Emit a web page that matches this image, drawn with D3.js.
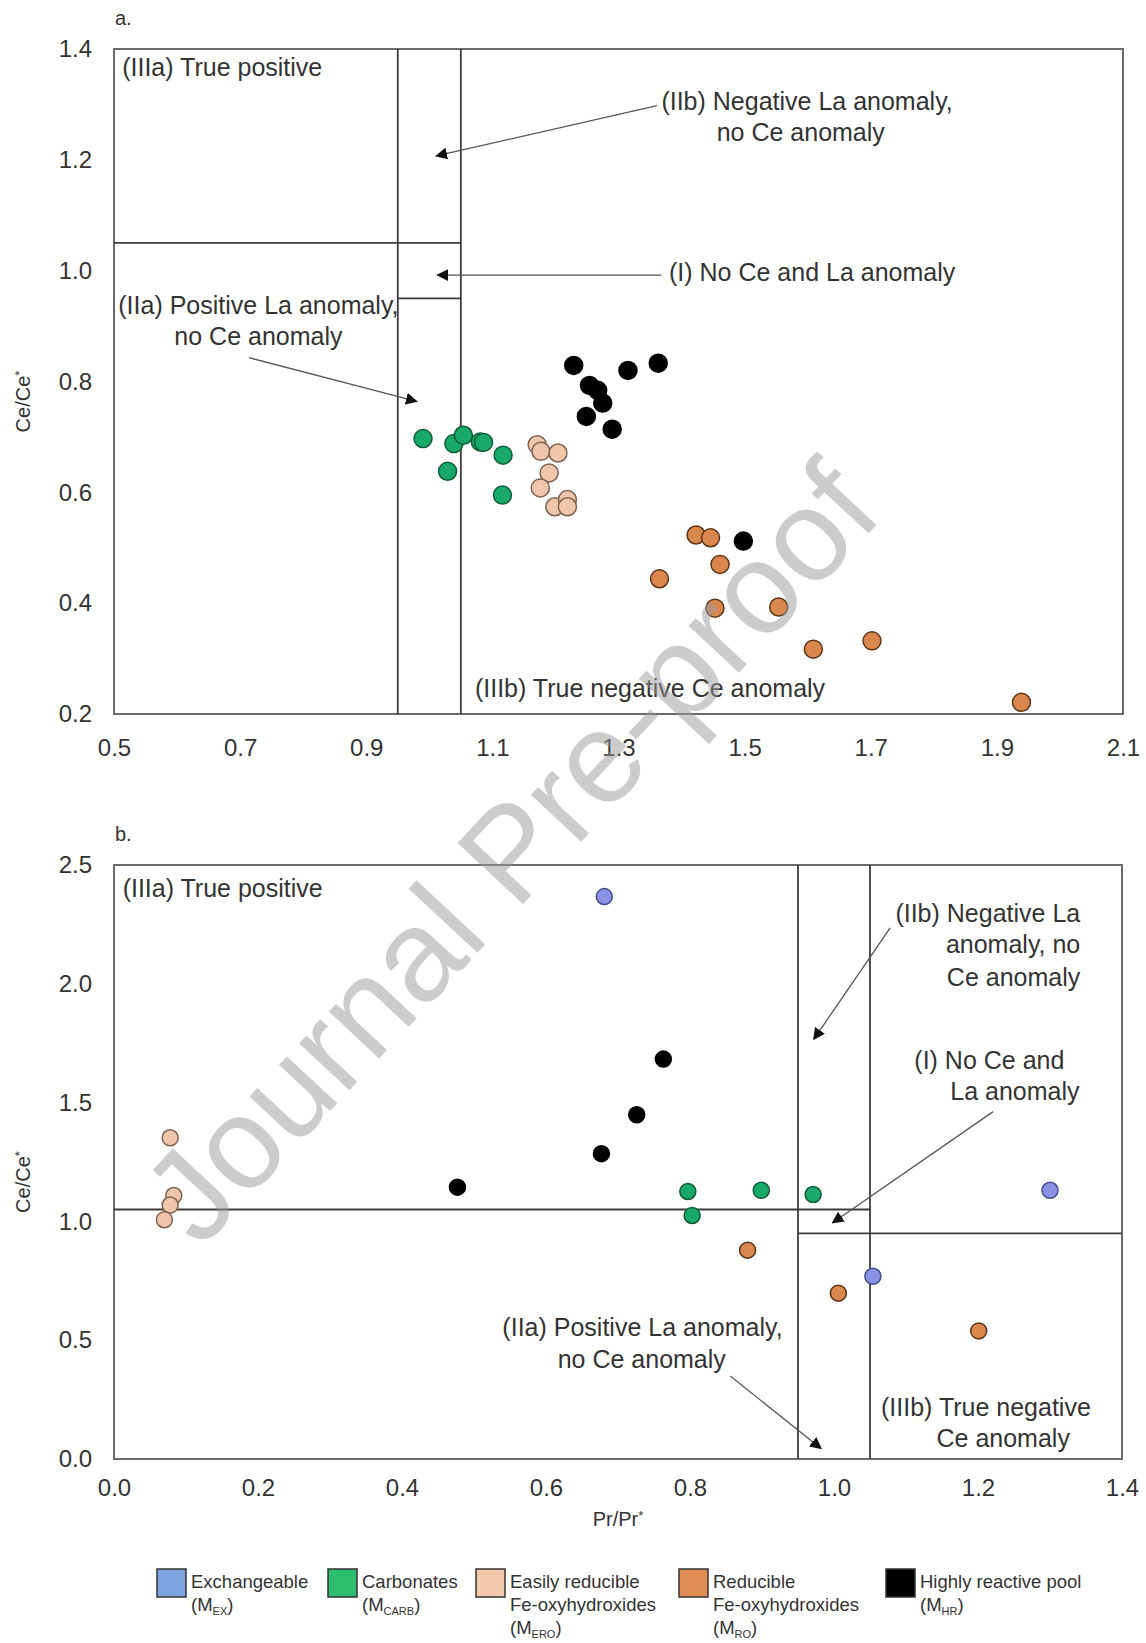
<!DOCTYPE html>
<html>
<head>
<meta charset="utf-8">
<script src="https://cdn.jsdelivr.net/npm/d3@7"></script>
<style>
  body { margin: 0; background: #fff; }
  svg text { font-family: "Liberation Sans", Arial, sans-serif; fill: #333; }
</style>
</head>
<body>
<svg id="chart" width="1146" height="1643"></svg>
<script>
// ---- data: [Pr/Pr*, Ce/Ce*] ----
// panel a
const aCarb = [[0.99, 0.697], [1.029, 0.638], [1.039, 0.688], [1.054, 0.703], [1.081, 0.691], [1.086, 0.690], [1.117, 0.667], [1.116, 0.595]];
const aEro = [[1.171, 0.686], [1.177, 0.674], [1.204, 0.671], [1.19, 0.635], [1.176, 0.608], [1.199, 0.574], [1.219, 0.587], [1.219, 0.574]];
const aRo = [[1.423, 0.523], [1.446, 0.518], [1.461, 0.47], [1.365, 0.444], [1.453, 0.391], [1.554, 0.393], [1.609, 0.317], [1.702, 0.332], [1.939, 0.221]];
const aHr = [[1.229, 0.829], [1.254, 0.793], [1.267, 0.784], [1.275, 0.761], [1.249, 0.737], [1.29, 0.714], [1.315, 0.82], [1.363, 0.833], [1.498, 0.512]];
// panel b
const bEx = [[0.681, 2.367], [1.3, 1.131], [1.054, 0.769]];
const bCarb = [[0.797, 1.126], [0.899, 1.131], [0.971, 1.113], [0.803, 1.025]];
const bEro = [[0.078, 1.352], [0.083, 1.109], [0.078, 1.069], [0.07, 1.007]];
const bRo = [[0.88, 0.879], [1.006, 0.698], [1.201, 0.539]];
const bHr = [[0.477, 1.144], [0.677, 1.285], [0.726, 1.449], [0.763, 1.683]];

const aXTicks = [0.5, 0.7, 0.9, 1.1, 1.3, 1.5, 1.7, 1.9, 2.1];
const aYTicks = [0.2, 0.4, 0.6, 0.8, 1.0, 1.2, 1.4];
const bXTicks = [0, 0.2, 0.4, 0.6, 0.8, 1.0, 1.2, 1.4];
const bYTicks = [0, 0.5, 1.0, 1.5, 2.0, 2.5];

const lower = 0.95, upper = 1.05;

const fractionKeys = ['ex', 'carb', 'ero', 'ro', 'hr'];
const fractionNames = [['Exchangeable'], ['Carbonates'], ['Easily reducible', 'Fe-oxyhydroxides'], ['Reducible', 'Fe-oxyhydroxides'], ['Highly reactive pool']];
const fractionSubs = ['EX', 'CARB', 'ERO', 'RO', 'HR'];

const fill = { ex: '#8a92e6', carb: '#19aa6b', ero: '#efc6ab', ro: '#d9874d', hr: '#000' };
const edge = { ex: '#454c8c', carb: '#0f5c38', ero: '#7e6150', ro: '#5a3417', hr: '#000' };
const legendFill = { ex: '#7ea4e0', carb: '#2dbd6e', ero: '#f2c9ab', ro: '#e08d55', hr: '#000' };

// annotation text: [x, y, anchor, text] in data units
const aNotes = [
  [0.513, 1.351, 'start', '(IIIa) True positive'],
  [1.599, 1.29, 'middle', '(IIb) Negative La anomaly,'],
  [1.589, 1.234, 'middle', 'no Ce anomaly'],
  [1.607, 0.982, 'middle', '(I) No Ce and La anomaly'],
  [0.729, 0.922, 'middle', '(IIa) Positive La anomaly,'],
  [0.729, 0.865, 'middle', 'no Ce anomaly'],
  [1.35, 0.23, 'middle', '(IIIb) True negative Ce anomaly']
];
const aArrows = [
  [1.361, 1.298, 1.011, 1.207],
  [1.368, 0.992, 1.013, 0.992],
  [0.714, 0.843, 0.98, 0.764]
];
const bNotes = [
  [0.012, 2.367, 'start', '(IIIa) True positive'],
  [1.342, 2.261, 'end', '(IIb) Negative La'],
  [1.342, 2.129, 'end', 'anomaly, no'],
  [1.342, 1.992, 'end', 'Ce anomaly'],
  [1.32, 1.643, 'end', '(I) No Ce and'],
  [1.341, 1.511, 'end', 'La anomaly'],
  [0.734, 0.517, 'middle', '(IIa) Positive La anomaly,'],
  [0.733, 0.384, 'middle', 'no Ce anomaly'],
  [1.211, 0.181, 'middle', '(IIIb) True negative'],
  [1.235, 0.049, 'middle', 'Ce anomaly']
];
const bArrows = [
  [1.078, 2.235, 0.972, 1.767],
  [1.221, 1.462, 0.998, 0.994],
  [0.856, 0.349, 0.982, 0.044]
];

const svg = d3.select('#chart');

svg.append('defs').append('marker')
  .attr('id', 'head')
  .attr('viewBox', '0 0 10 10')
  .attr('refX', 9).attr('refY', 5)
  .attr('markerWidth', 12).attr('markerHeight', 12)
  .attr('markerUnits', 'userSpaceOnUse')
  .attr('orient', 'auto')
  .append('path').attr('d', 'M0,0 L10,5 L0,10 z').attr('fill', '#111');

function drawPanel(cfg) {
  const { x, y, xTicks, yTicks, xPad, series, r, hLines, notes, arrows, label } = cfg;
  const g = svg.append('g');
  const [x0, x1] = x.range();
  const [y0, y1] = y.range();

  // tick labels only, no tick marks
  g.append('g')
    .attr('transform', `translate(0,${y0})`)
    .call(d3.axisBottom(x).tickValues(xTicks).tickSize(0).tickPadding(xPad).tickFormat(d3.format('.1f')))
    .call(a => a.select('.domain').remove())
    .call(a => a.selectAll('text').attr('font-size', 24).attr('fill', '#444').style('font-family', null));

  g.append('g')
    .attr('transform', `translate(${x0},0)`)
    .call(d3.axisLeft(y).tickValues(yTicks).tickSize(0).tickPadding(22).tickFormat(d3.format('.1f')))
    .call(a => a.select('.domain').remove())
    .call(a => a.selectAll('text').attr('font-size', 24).attr('fill', '#444').style('font-family', null));

  // frame
  g.append('rect')
    .attr('x', x0).attr('y', y1)
    .attr('width', x1 - x0).attr('height', y0 - y1)
    .attr('fill', 'none').attr('stroke', '#6a6a6a').attr('stroke-width', 2);

  // anomaly field boundaries
  const lines = g.append('g').attr('stroke', '#3c3c3c').attr('stroke-width', 1.8);
  [lower, upper].forEach(v => {
    lines.append('line').attr('x1', x(v)).attr('x2', x(v)).attr('y1', y0).attr('y2', y1);
  });
  hLines.forEach(([v, from, to]) => {
    lines.append('line').attr('x1', x(from)).attr('x2', x(to)).attr('y1', y(v)).attr('y2', y(v));
  });

  // arrows
  g.append('g').selectAll('line').data(arrows).join('line')
    .attr('x1', d => x(d[0])).attr('y1', d => y(d[1]))
    .attr('x2', d => x(d[2])).attr('y2', d => y(d[3]))
    .attr('stroke', '#555').attr('stroke-width', 1.3)
    .attr('marker-end', 'url(#head)');

  // notes
  g.append('g').selectAll('text').data(notes).join('text')
    .attr('x', d => x(d[0])).attr('y', d => y(d[1]))
    .attr('text-anchor', d => d[2])
    .attr('font-size', 25)
    .text(d => d[3]);

  // points
  series.forEach(([key, pts]) => {
    g.append('g').selectAll('circle').data(pts).join('circle')
      .attr('cx', d => x(d[0])).attr('cy', d => y(d[1]))
      .attr('r', r)
      .attr('fill', fill[key])
      .attr('stroke', edge[key]).attr('stroke-width', 1.5);
  });

  // panel letter
  g.append('text').attr('x', x0 + 1).attr('y', y1 - 24).attr('font-size', 20).text(label);

  // y title
  g.append('text')
    .attr('transform', `translate(30,${(y0 + y1) / 2 + 20}) rotate(-90)`)
    .attr('text-anchor', 'middle').attr('font-size', 20)
    .text('Ce/Ce')
    .append('tspan').attr('dy', -6).attr('font-size', 13).text('*');
}

const xa = d3.scaleLinear().domain([0.5, 2.1]).range([114, 1123]);
const ya = d3.scaleLinear().domain([0.2, 1.4]).range([714, 49]);
drawPanel({
  x: xa, y: ya, xTicks: aXTicks, yTicks: aYTicks, xPad: 24.5, r: 9, label: 'a.',
  hLines: [[upper, 0.5, upper], [lower, lower, upper]],
  notes: aNotes, arrows: aArrows,
  series: [['carb', aCarb], ['ero', aEro], ['ro', aRo], ['hr', aHr]]
});

const xb = d3.scaleLinear().domain([0, 1.4]).range([114, 1122]);
const yb = d3.scaleLinear().domain([0, 2.5]).range([1459, 865]);
drawPanel({
  x: xb, y: yb, xTicks: bXTicks, yTicks: bYTicks, xPad: 20, r: 8, label: 'b.',
  hLines: [[upper, 0, upper], [lower, lower, 1.4]],
  notes: bNotes, arrows: bArrows,
  series: [['ex', bEx], ['carb', bCarb], ['ero', bEro], ['ro', bRo], ['hr', bHr]]
});

// x title
svg.append('text')
  .attr('x', 618).attr('y', 1526)
  .attr('text-anchor', 'middle').attr('font-size', 20)
  .text('Pr/Pr')
  .append('tspan').attr('dy', -6).attr('font-size', 13).text('*');

// legend
const legendX = [157, 328, 476, 679, 886];
const legend = svg.append('g').selectAll('g').data(fractionKeys).join('g')
  .attr('transform', (d, i) => `translate(${legendX[i]},1569)`);
legend.append('rect')
  .attr('width', 29).attr('height', 28)
  .attr('fill', d => legendFill[d]).attr('stroke', '#333').attr('stroke-width', 1.5);
legend.each(function (d, i) {
  const t = d3.select(this).append('text').attr('x', 34).attr('y', 19).attr('font-size', 18.5);
  fractionNames[i].forEach((ln, j) => t.append('tspan').attr('x', 34).attr('dy', j ? 23 : 0).text(ln));
  t.append('tspan').attr('x', 34).attr('dy', 23).text('(M');
  t.append('tspan').attr('font-size', 11).attr('dy', 4).text(fractionSubs[i]);
  t.append('tspan').attr('dy', -4).text(')');
});

// watermark
svg.append('text')
  .attr('transform', 'translate(510,852) rotate(-47)')
  .attr('text-anchor', 'middle').attr('dominant-baseline', 'central')
  .attr('font-size', 130)
  .style('fill', '#9a9a9a').attr('opacity', 0.5)
  .text('Journal Pre-proof');
</script>
</body>
</html>
